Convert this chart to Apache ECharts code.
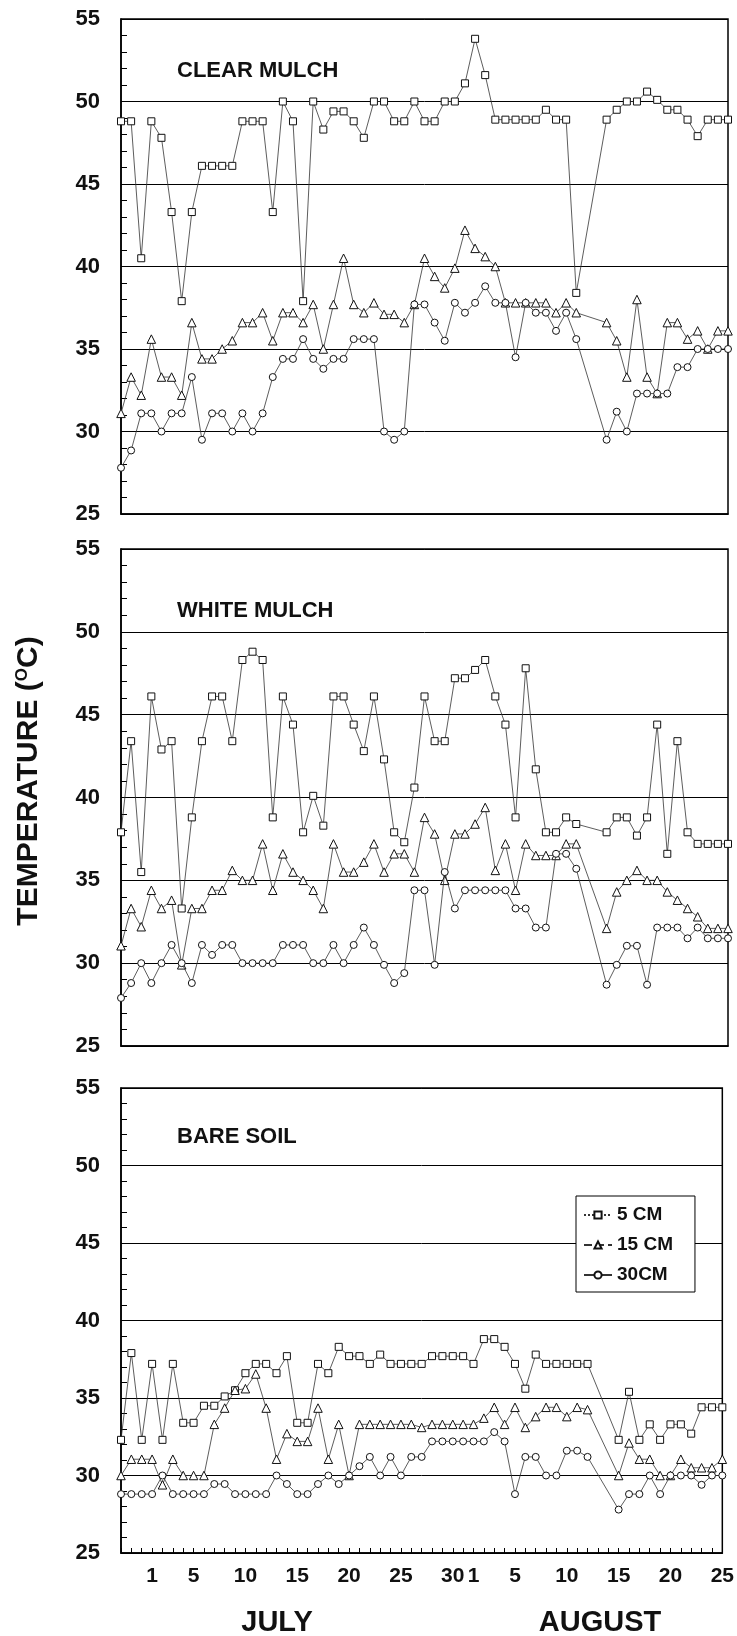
<!DOCTYPE html>
<html><head><meta charset="utf-8">
<script src="https://cdn.jsdelivr.net/npm/echarts@6/dist/echarts.min.js"></script>
<style>html,body{margin:0;padding:0;background:#fff}#c{width:737px;height:1636px}</style>
</head><body><div id="c"></div>
<script>
// ---- CLEAR MULCH (61 observation slots) ----
const clear5 = [48.8,48.8,40.5,48.8,47.8,43.3,37.9,43.3,46.1,46.1,46.1,46.1,48.8,48.8,48.8,43.3,50.0,48.8,37.9,50.0,48.3,49.4,49.4,48.8,47.8,50.0,50.0,48.8,48.8,50.0,48.8,48.8,50.0,50.0,51.1,53.8,51.6,48.9,48.9,48.9,48.9,48.9,49.5,48.9,48.9,38.4,null,null,48.9,49.5,50.0,50.0,50.6,50.1,49.5,49.5,48.9,47.9,48.9,48.9,48.9];
const clear15 = [31.1,33.3,32.2,35.6,33.3,33.3,32.2,36.6,34.4,34.4,35.0,35.5,36.6,36.6,37.2,35.5,37.2,37.2,36.6,37.7,35.0,37.7,40.5,37.7,37.2,37.8,37.1,37.1,36.6,37.7,40.5,39.4,38.7,39.9,42.2,41.1,40.6,40.0,37.8,37.8,37.8,37.8,37.8,37.2,37.8,37.2,null,null,36.6,35.5,33.3,38.0,33.3,32.3,36.6,36.6,35.6,36.1,35.0,36.1,36.1];
const clear30 = [27.8,28.85,31.1,31.1,30.0,31.1,31.1,33.3,29.5,31.1,31.1,30.0,31.1,30.0,31.1,33.3,34.4,34.4,35.6,34.4,33.8,34.4,34.4,35.6,35.6,35.6,30.0,29.5,30.0,37.7,37.7,36.6,35.5,37.8,37.2,37.8,38.8,37.8,37.8,34.5,37.8,37.2,37.2,36.1,37.2,35.6,null,null,29.5,31.2,30.0,32.3,32.3,32.3,32.3,33.9,33.9,35.0,35.0,35.0,35.0];
// ---- WHITE MULCH (61 observation slots) ----
const white5 = [37.9,43.4,35.5,46.1,42.9,43.4,33.3,38.8,43.4,46.1,46.1,43.4,48.3,48.8,48.3,38.8,46.1,44.4,37.9,40.1,38.3,46.1,46.1,44.4,42.8,46.1,42.3,37.9,37.3,40.6,46.1,43.4,43.4,47.2,47.2,47.7,48.3,46.1,44.4,38.8,47.8,41.7,37.9,37.9,38.8,38.4,null,null,37.9,38.8,38.8,37.7,38.8,44.4,36.6,43.4,37.9,37.2,37.2,37.2,37.2];
const white15 = [31.05,33.3,32.2,34.4,33.3,33.8,29.9,33.3,33.3,34.4,34.4,35.6,35.0,35.0,37.2,34.4,36.6,35.5,35.0,34.4,33.3,37.2,35.5,35.5,36.1,37.2,35.5,36.6,36.6,35.5,38.8,37.8,35.0,37.8,37.8,38.4,39.4,35.6,37.2,34.4,37.2,36.5,36.5,36.5,37.2,37.2,null,null,32.1,34.3,35.0,35.6,35.0,35.0,34.3,33.8,33.3,32.8,32.1,32.1,32.1];
const white30 = [27.9,28.8,30.0,28.8,30.0,31.1,30.0,28.8,31.1,30.5,31.1,31.1,30.0,30.0,30.0,30.0,31.1,31.1,31.1,30.0,30.0,31.1,30.0,31.1,32.15,31.1,29.9,28.8,29.4,34.4,34.4,29.9,35.5,33.3,34.4,34.4,34.4,34.4,34.4,33.3,33.3,32.15,32.15,36.6,36.6,35.7,null,null,28.7,29.9,31.05,31.05,28.7,32.15,32.15,32.15,31.5,32.15,31.5,31.5,31.5];
// ---- BARE SOIL (June 28 - August 25) ----
const bare5 = [32.3,37.9,32.3,37.2,32.3,37.2,33.4,33.4,34.5,34.5,35.1,35.5,36.6,37.2,37.2,36.6,37.7,33.4,33.4,37.2,36.6,38.3,37.7,37.7,37.2,37.8,37.2,37.2,37.2,37.2,37.7,37.7,37.7,37.7,37.2,38.8,38.8,38.3,37.2,35.6,37.8,37.2,37.2,37.2,37.2,37.2,null,null,32.3,35.4,32.3,33.3,32.3,33.3,33.3,32.7,34.4,34.4,34.4];
const bare15 = [30.0,31.05,31.05,31.05,29.4,31.05,30.0,30.0,30.0,33.3,34.35,35.5,35.6,36.55,34.35,31.05,32.7,32.2,32.2,34.35,31.05,33.3,30.0,33.3,33.3,33.3,33.3,33.3,33.3,33.1,33.3,33.3,33.3,33.3,33.3,33.7,34.4,33.3,34.4,33.1,33.8,34.4,34.4,33.8,34.4,34.25,null,null,30.0,32.1,31.05,31.05,30.0,30.0,31.05,30.5,30.5,30.5,31.05];
const bare30 = [28.8,28.8,28.8,28.8,30.0,28.8,28.8,28.8,28.8,29.45,29.45,28.8,28.8,28.8,28.8,30.0,29.45,28.8,28.8,29.45,30.0,29.45,30.0,30.6,31.2,30.0,31.2,30.0,31.2,31.2,32.2,32.2,32.2,32.2,32.2,32.2,32.8,32.2,28.8,31.2,31.2,30.0,30.0,31.6,31.6,31.2,null,null,27.8,28.8,28.8,30.0,28.8,30.0,30.0,30.0,29.4,30.0,30.0];

// categories and tick labels
const mulchSlots = clear5.map((v, i) => String(i + 1));
const monthLengths = [[6, 28, 30], [7, 1, 31], [8, 1, 25]];
const bareDates = [];
monthLengths.forEach(([m, a, b]) => { for (let d = a; d <= b; d++) bareDates.push(m + '/' + d); });
const julyTicks = [1, 5, 10, 15, 20, 25, 30];
const augustTicks = [1, 5, 10, 15, 20, 25];
const monthNames = ['JULY', 'AUGUST'];
const panelNames = ['CLEAR MULCH', 'WHITE MULCH', 'BARE SOIL'];
const seriesNames = ['5 CM', '15 CM', '30CM'];
const yTitle = 'TEMPERATURE ({s|O}C)';

const FONT = '"Liberation Sans", Arial, Helvetica, sans-serif';
const chart = echarts.init(document.getElementById('c'), null, {renderer: 'canvas'});

const grids = [
  {left: 121, width: 607, top: 19, height: 495},
  {left: 121, width: 607, top: 549, height: 497},
  {left: 121, width: 607, top: 1088, height: 465}
].map(g => Object.assign(g, {show: true, borderColor: '#000', borderWidth: 1.5, containLabel: false}));

const yAxes = [0, 1, 2].map(i => ({
  type: 'value', gridIndex: i, min: 25, max: 55, interval: 5,
  axisLine: {show: true, lineStyle: {color: '#000', width: 1.5}},
  axisTick: {show: true, inside: true, length: 7, lineStyle: {color: '#000', width: 1}},
  minorTick: {show: true, splitNumber: 5, length: 6, lineStyle: {color: '#000', width: 1}},
  splitLine: {show: true, lineStyle: {color: '#000', width: 1}},
  axisLabel: {fontSize: 22, fontWeight: 'bold', color: '#111', fontFamily: FONT, margin: 21}
}));

const plainX = i => ({
  type: 'category', gridIndex: i, data: mulchSlots, boundaryGap: false,
  axisLine: {show: true, lineStyle: {color: '#000', width: 1.5}},
  axisTick: {show: false}, axisLabel: {show: false}, splitLine: {show: false}
});
const xAxes = [plainX(0), plainX(1), {
  type: 'category', gridIndex: 2, data: bareDates, boundaryGap: false,
  axisLine: {show: true, lineStyle: {color: '#000', width: 1.5}},
  axisTick: {show: true, inside: true, length: 5, interval: 0, lineStyle: {color: '#000', width: 1}},
  splitLine: {show: false},
  axisLabel: {
    interval: 0, fontSize: 21, fontWeight: 'bold', color: '#111', fontFamily: FONT, margin: 13,
    formatter: v => {
      const [m, d] = v.split('/').map(Number);
      if (m === 7 && julyTicks.includes(d)) return String(d);
      if (m === 8 && augustTicks.includes(d)) return String(d);
      return '';
    }
  }
}];

const symbols = ['rect', 'triangle', 'circle'];
const sizes = [7, 8.5, 7];
const panelData = [[clear5, clear15, clear30], [white5, white15, white30], [bare5, bare15, bare30]];
const series = [];
panelData.forEach((arrs, p) => {
  arrs.forEach((arr, k) => {
    series.push({
      type: 'line', name: seriesNames[k], xAxisIndex: p, yAxisIndex: p, data: arr,
      connectNulls: true, symbol: symbols[k], symbolSize: sizes[k], showSymbol: true, showAllSymbol: true,
      lineStyle: {color: '#333', width: 0.8},
      itemStyle: {color: '#fff', borderColor: '#111', borderWidth: 1},
      emphasis: {disabled: true}, z: 3 + k
    });
  });
});

const titles = panelNames.map((t, i) => ({
  text: t, left: 177, top: [60, 600, 1126][i], padding: 0,
  textStyle: {fontSize: 22, fontWeight: 'bold', color: '#111', fontFamily: FONT}
}));

chart.setOption({
  animation: false,
  backgroundColor: '#fff',
  title: titles,
  grid: grids, xAxis: xAxes, yAxis: yAxes, series: series,
  legend: {
    orient: 'vertical', left: 576, top: 1196, padding: [8, 22, 6, 7], itemGap: 8,
    itemWidth: 28, itemHeight: 9, selectedMode: false,
    backgroundColor: '#fff', borderColor: '#000', borderWidth: 1, borderRadius: 0,
    textStyle: {fontSize: 19, fontWeight: 'bold', color: '#111', fontFamily: FONT, lineHeight: 22},
    data: [
      {name: seriesNames[0], lineStyle: {type: 'dotted'}},
      {name: seriesNames[1], lineStyle: {type: 'dashed'}},
      {name: seriesNames[2]}
    ]
  },
  graphic: [
    {type: 'text', x: 29, y: 781, rotation: Math.PI / 2,
      style: {text: yTitle, fontSize: 30, fontWeight: 'bold', fontFamily: FONT, fill: '#111',
        align: 'center', verticalAlign: 'middle',
        rich: {s: {fontSize: 17, fontWeight: 'bold', fontFamily: FONT, fill: '#111', verticalAlign: 'top'}}}},
    {type: 'text', x: 277, y: 1623,
      style: {text: monthNames[0], fontSize: 29, fontWeight: 'bold', fontFamily: FONT, fill: '#111', align: 'center', verticalAlign: 'middle'}},
    {type: 'text', x: 600, y: 1623,
      style: {text: monthNames[1], fontSize: 29, fontWeight: 'bold', fontFamily: FONT, fill: '#111', align: 'center', verticalAlign: 'middle'}}
  ]
});
</script></body></html>
